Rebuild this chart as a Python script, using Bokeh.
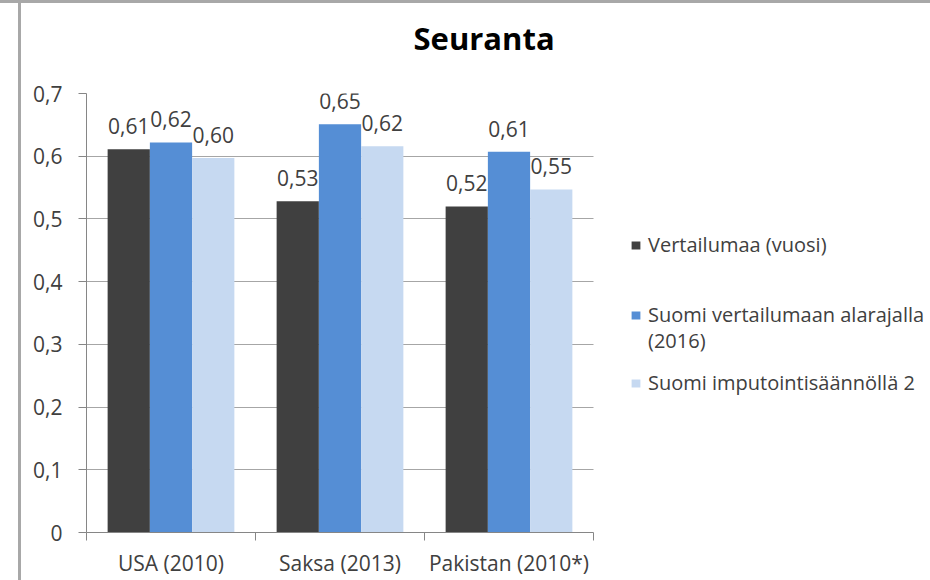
from bokeh.plotting import figure
from bokeh.models import (Range1d, FixedTicker, CustomJSTickFormatter, Legend, LegendItem,
                          ColumnDataSource, Title)
from bokeh.core.properties import value
from bokeh.embed import file_html
from bokeh.resources import INLINE

categories = ["USA (2010)", "Saksa (2013)", "Pakistan (2010*)"]
series_names = ["Vertailumaa (vuosi)", "Suomi vertailumaan alarajalla", "Suomi imputointisäännöllä 2"]
series_name_cont = "(2016)"
vertailumaa = [0.611, 0.528, 0.520]
suomi_alaraja = [0.622, 0.651, 0.607]
suomi_imput = [0.597, 0.616, 0.547]
y_ticks = [0.0, 0.1, 0.2, 0.3, 0.4, 0.5, 0.6, 0.7]
chart_title = "Seuranta"

colors = ["#404040", "#558ED5", "#C6D9F1"]
series = [vertailumaa, suomi_alaraja, suomi_imput]
offsets = [-0.25, 0.0, 0.25]

FONT = "Open Sans"
TXT = "#404040"

W, H = 930, 580
LEFT, TOP, BOTTOM, RIGHT = 86, 93, 48, 0
plot_area_w = 507                      # pixel width of the bar area
frame_w = W - LEFT - RIGHT
n = len(categories)
x_end = n * frame_w / plot_area_w      # frame extends to the right to hold the legend

p = figure(width=W, height=H, output_backend="svg", toolbar_location=None,
           x_range=Range1d(0, x_end), y_range=Range1d(0, 0.7),
           min_border_left=LEFT, min_border_right=RIGHT, min_border_top=TOP, min_border_bottom=BOTTOM)
p.outline_line_color = None
p.background_fill_color = "white"
p.border_fill_color = None
p.stylesheets = [":host { background-color: white; background-image: "
                 "linear-gradient(to right, transparent 18px, #a8a8a8 18px, #a8a8a8 21px, transparent 21px), "
                 "linear-gradient(to bottom, #a8a8a8 0px, #a8a8a8 3px, transparent 3px); }"]

p.title.text = chart_title
p.title.text_font = FONT
p.title.text_font_style = "bold"
p.title.text_font_size = "31px"
p.title.text_color = "#000000"
p.title.align = "left"
p.title.offset = 327
p.title.standoff = 10
# an (almost) empty title between the frame and the real title, used as a spacer
spacer = Title(text=" ", text_font_size="1px", standoff=27)
p.add_layout(spacer, "above")

renderers = []
for vals, col, off in zip(series, colors, offsets):
    xs = [i + 0.5 + off for i in range(n)]
    src = ColumnDataSource(dict(x=xs, top=vals, lab=[f"{v:.2f}".replace(".", ",") for v in vals]))
    r = p.vbar(x="x", top="top", width=0.25, source=src, fill_color=col, line_color=None)
    renderers.append(r)
    p.text(x="x", y="top", text="lab", source=src, text_align="center", text_baseline="alphabetic",
           y_offset=-23, text_font=value(FONT), text_font_size="21px", text_color=TXT)

# empty, invisible renderer used only to give the wrapped legend line its own row
blank = p.vbar(x=[], top=[], width=0.25, fill_alpha=0, line_alpha=0)

# y axis
p.yaxis.ticker = FixedTicker(ticks=y_ticks)
p.yaxis.formatter = CustomJSTickFormatter(code="return tick == 0 ? '0' : tick.toFixed(1).replace('.', ',');")
p.yaxis.axis_line_color = "#868686"
p.yaxis.major_tick_line_color = "#868686"
p.yaxis.major_tick_out = 8
p.yaxis.major_tick_in = 0
p.yaxis.minor_tick_line_color = None
p.yaxis.major_label_standoff = 16
p.yaxis.major_label_text_font = FONT
p.yaxis.major_label_text_font_size = "21px"
p.yaxis.major_label_text_color = TXT

# x axis: labels at centres, ticks at boundaries
centers = [i + 0.5 for i in range(n)]
bounds = [float(i) for i in range(n + 1)]
p.xaxis.ticker = FixedTicker(ticks=centers, minor_ticks=bounds)
p.xaxis.bounds = (0, n)
p.xaxis.major_label_overrides = {c: lab for c, lab in zip(centers, categories)}
p.xaxis.axis_line_color = "#868686"
p.xaxis.major_tick_line_color = None
p.xaxis.major_tick_out = 0
p.xaxis.major_tick_in = 0
p.xaxis.minor_tick_line_color = "#868686"
p.xaxis.minor_tick_out = 8
p.xaxis.minor_tick_in = 0
p.xaxis.major_label_standoff = 8
p.xaxis.major_label_text_font = FONT
p.xaxis.major_label_text_font_size = "21px"
p.xaxis.major_label_text_color = TXT

p.xgrid.grid_line_color = None
p.ygrid.ticker = FixedTicker(ticks=y_ticks)
p.ygrid.cross_bounds = (0, n)
p.ygrid.grid_line_color = "#A6A6A6"

# legends (one per row, placed right of the bar area)
legend_x = 544
rows = [(renderers[0], series_names[0], 274),
        (renderers[1], series_names[1], 204),
        (blank, series_name_cont, 178),
        (renderers[2], series_names[2], 136)]
for r, name, ly in rows:
    lg = Legend(items=[LegendItem(label=name, renderers=[r])], location=(legend_x, ly),
                padding=0, margin=0, spacing=0, border_line_color=None,
                background_fill_alpha=0, glyph_width=11, glyph_height=10,
                label_standoff=7, label_text_font=FONT, label_text_font_size="20px",
                label_text_color=TXT, label_height=20)
    p.add_layout(lg)

open("out.html", "w").write(file_html(p, INLINE))
